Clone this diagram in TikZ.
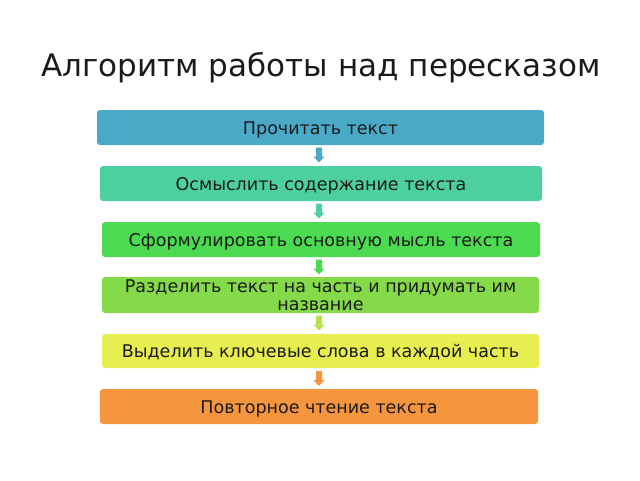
\documentclass[tikz,border=0pt]{standalone}
\usepackage{fontspec}
\setmainfont{DejaVu Sans}
\definecolor{cA}{HTML}{4BA9C8}
\definecolor{cB}{HTML}{4DD0A0}
\definecolor{cC}{HTML}{4CDB50}
\definecolor{cD}{HTML}{84DA48}
\definecolor{cE}{HTML}{E6EE50}
\definecolor{cF}{HTML}{F5963F}
\definecolor{cDE}{HTML}{B8E24C}
\definecolor{txt}{HTML}{1A1A1A}
\begin{document}
\begin{tikzpicture}[x=1pt,y=-1pt,
  stepbox/.style={inner sep=0pt,text=txt,font=\fontsize{17.5}{18}\selectfont,align=center},
  blockarrow/.pic={\fill (-3,-7.5) -- (3,-7.5) -- (3,1.5) -- (5.5,1.5) -- (0,7.5) -- (-5.5,1.5) -- (-3,1.5) -- cycle;}]
\useasboundingbox (0,0) rectangle (640,480);
\node[text=txt,font=\fontsize{31}{36}\selectfont,anchor=base] (title) at (321,76) {Алгоритм работы над пересказом};
\fill[cA,rounded corners=3pt] (97,110) rectangle (544,145);
\node[stepbox,anchor=base] (s1) at (320.5,134) {Прочитать текст};
\fill[cB,rounded corners=3pt] (100,166) rectangle (542,201);
\node[stepbox,anchor=base] (s2) at (321,190) {Осмыслить содержание текста};
\fill[cC,rounded corners=3pt] (102,222) rectangle (540,257);
\node[stepbox,anchor=base] (s3) at (321,246) {Сформулировать основную мысль текста};
\fill[cD,rounded corners=3pt] (102,277) rectangle (539,313);
\node[stepbox] (s4) at (320.5,295.6) {Разделить текст на часть и придумать им\\название};
\fill[cE,rounded corners=3pt] (102,334) rectangle (539,368);
\node[stepbox,anchor=base] (s5) at (320.5,357.5) {Выделить ключевые слова в каждой часть};
\fill[cF,rounded corners=3pt] (100,389) rectangle (538,424);
\node[stepbox,anchor=base] (s6) at (319,413) {Повторное чтение текста};
\pic[fill=cA] at (319,155) {blockarrow};
\pic[fill=cB] at (319,211) {blockarrow};
\pic[fill=cC] at (319,267) {blockarrow};
\pic[fill=cDE] at (319,323) {blockarrow};
\pic[fill=cF] at (319,378.5) {blockarrow};
\end{tikzpicture}
\end{document}
